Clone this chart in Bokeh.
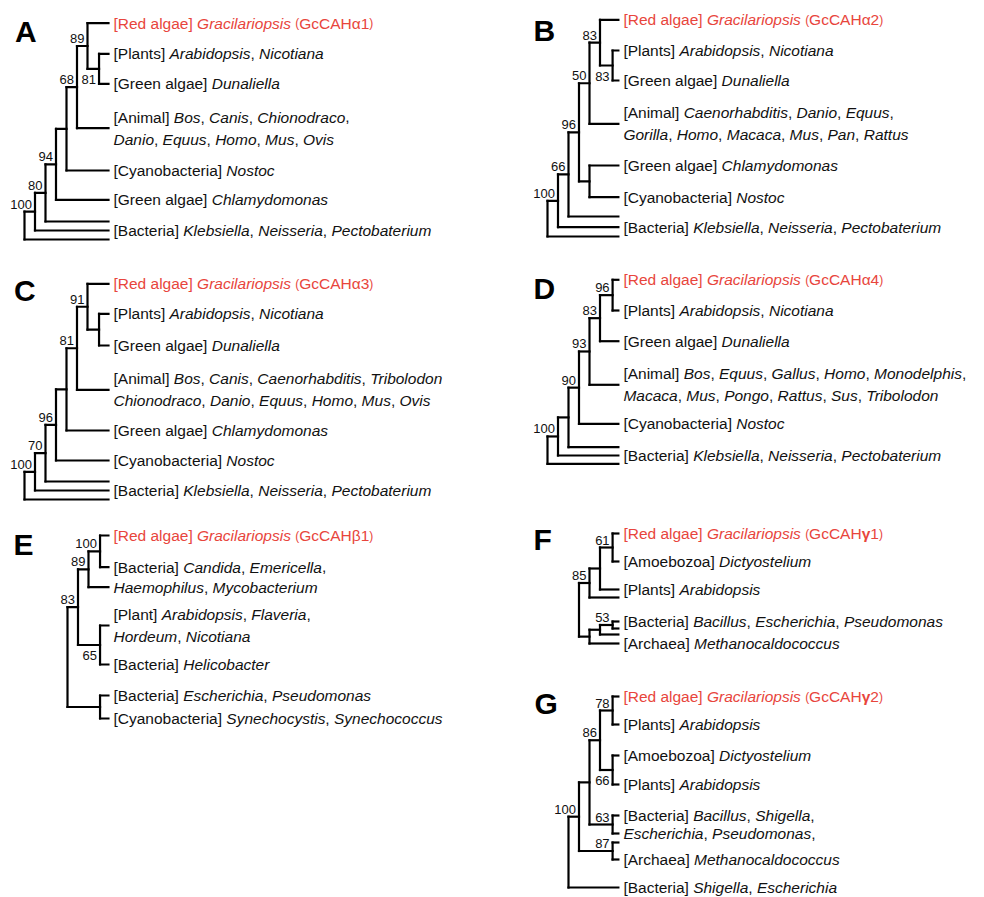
from bokeh.plotting import figure
from bokeh.models import Range1d
from bokeh.embed import file_html
from bokeh.resources import INLINE
from bokeh.core.properties import value

# ---------------- data: leaf labels (*...* = italic) and tree topology ----------------
# internal node = (bootstrap, depth, [children], placement) ; leaf = index into leaf list
A_leaves = [
    "[Red algae] *Gracilariopsis* (GcCAHα1)",
    "[Plants] *Arabidopsis*, *Nicotiana*",
    "[Green algae] *Dunaliella*",
    "[Animal] *Bos*, *Canis*, *Chionodraco*,\n*Danio*, *Equus*, *Homo*, *Mus*, *Ovis*",
    "[Cyanobacteria] *Nostoc*",
    "[Green algae] *Chlamydomonas*",
    "",
    "[Bacteria] *Klebsiella*, *Neisseria*, *Pectobaterium*",
    "",
]
A_tree = ("", 0, [("100", 1, [("80", 2, [("94", 3, [("", 4, [("68", 5, [("89", 6, [0, ("81", 7.1, [1, 2], "below")]), 3]), 4]), 5]), 6]), 7]), 8])

B_leaves = [
    "[Red algae] *Gracilariopsis* (GcCAHα2)",
    "[Plants] *Arabidopsis*, *Nicotiana*",
    "[Green algae] *Dunaliella*",
    "[Animal] *Caenorhabditis*, *Danio*, *Equus*,\n*Gorilla*, *Homo*, *Macaca*, *Mus*, *Pan*, *Rattus*",
    "[Green algae] *Chlamydomonas*",
    "[Cyanobacteria] *Nostoc*",
    "",
    "[Bacteria] *Klebsiella*, *Neisseria*, *Pectobaterium*",
    "",
]
B_tree = ("", 0, [("100", 1, [("66", 2, [("96", 3, [("50", 4, [("83", 5, [0, ("83", 6.2, [1, 2], "below")]), 3]), ("", 4, [4, 5])]), 6]), 7]), 8])

C_leaves = [
    "[Red algae] *Gracilariopsis* (GcCAHα3)",
    "[Plants] *Arabidopsis*, *Nicotiana*",
    "[Green algae] *Dunaliella*",
    "[Animal] *Bos*, *Canis*, *Caenorhabditis*, *Tribolodon*\n*Chionodraco*, *Danio*, *Equus*, *Homo*, *Mus*, *Ovis*",
    "[Green algae] *Chlamydomonas*",
    "[Cyanobacteria] *Nostoc*",
    "",
    "[Bacteria] *Klebsiella*, *Neisseria*, *Pectobaterium*",
    "",
]
C_tree = ("", 0, [("100", 1, [("70", 2, [("96", 3, [("", 4, [("81", 5, [("91", 6, [0, ("", 7.1, [1, 2])]), 3]), 4]), 5]), 6]), 7]), 8])

D_leaves = [
    "[Red algae] *Gracilariopsis* (GcCAHα4)",
    "[Plants] *Arabidopsis*, *Nicotiana*",
    "[Green algae] *Dunaliella*",
    "[Animal] *Bos*, *Equus*, *Gallus*, *Homo*, *Monodelphis*,\n*Macaca*, *Mus*, *Pongo*, *Rattus*, *Sus*, *Tribolodon*",
    "[Cyanobacteria] *Nostoc*",
    "",
    "[Bacteria] *Klebsiella*, *Neisseria*, *Pectobaterium*",
    "",
]
D_tree = ("", 0, [("100", 1, [("", 2, [("90", 3, [("93", 4, [("83", 5, [("96", 6.2, [0, 1]), 2]), 3]), 4]), 5]), 6]), 7])

E_leaves = [
    "[Red algae] *Gracilariopsis* (GcCAHβ1)",
    "[Bacteria] *Candida*, *Emericella*,",
    "*Haemophilus*, *Mycobacterium*",
    "[Plant] *Arabidopsis*, *Flaveria*,\n*Hordeum*, *Nicotiana*",
    "[Bacteria] *Helicobacter*",
    "[Bacteria] *Escherichia*, *Pseudomonas*",
    "[Cyanobacteria] *Synechocystis*, *Synechococcus*",
]
E_tree = ("", 0, [("83", 1, [("89", 2, [("100", 3.1, [0, 1]), 2]), ("65", 3.1, [3, 4], "below")]), ("", 3.1, [5, 6])])

F_leaves = [
    "[Red algae] *Gracilariopsis* (GcCAHγ1)",
    "[Amoebozoa] *Dictyostelium*",
    "[Plants] *Arabidopsis*",
    "",
    "[Bacteria] *Bacillus*, *Escherichia*, *Pseudomonas*",
    "",
    "",
    "[Archaea] *Methanocaldococcus*",
]
F_tree = ("", 3, [("85", 4, [("", 5, [("61", 6.2, [0, 1]), 2]), 3]),
                  ("", 4, [("", 5, [("53", 6.2, [4, 5]), 6]), 7])])

G_leaves = [
    "[Red algae] *Gracilariopsis* (GcCAHγ2)",
    "[Plants] *Arabidopsis*",
    "[Amoebozoa] *Dictyostelium*",
    "[Plants] *Arabidopsis*",
    "[Bacteria] *Bacillus*, *Shigella*,",
    "*Escherichia*, *Pseudomonas*,",
    "",
    "[Archaea] *Methanocaldococcus*",
    "[Bacteria] *Shigella*, *Escherichia*",
]
G_tree = ("", 2, [("100", 3, [("", 4, [("86", 5, [("78", 6.2, [0, 1]), ("66", 6.2, [2, 3], "below")]), ("63", 6.2, [4, 5])]), ("87", 6.2, [6, 7])]), 8])

# ---------------- layout / style ----------------
PANELS = [
    dict(name="A", leaves=A_leaves, tree=A_tree, x0=24, unit=10.5, tip=8.0, letter=(14.5, 31),
         ys=[22.7, 53.3, 83.3, 127.7, 170, 199.3, 221, 230, 239]),
    dict(name="B", leaves=B_leaves, tree=B_tree, x0=547, unit=10.5, tip=6.75, letter=(533, 30),
         ys=[19.3, 50, 80, 123.3, 165, 196.7, 216, 226.7, 236]),
    dict(name="C", leaves=C_leaves, tree=C_tree, x0=24, unit=10.5, tip=8.0, letter=(13.5, 290),
         ys=[283.3, 313.3, 345, 389.3, 430, 460, 481, 490, 499]),
    dict(name="D", leaves=D_leaves, tree=D_tree, x0=547, unit=10.5, tip=6.75, letter=(533, 287.5),
         ys=[279.3, 310, 340.7, 384.3, 423.3, 446.7, 455, 463.3]),
    dict(name="E", leaves=E_leaves, tree=E_tree, x0=67, unit=10.5, tip=3.9, letter=(13, 544),
         ys=[535, 566.7, 586.7, 625, 664, 695, 718]),
    dict(name="F", leaves=F_leaves, tree=F_tree, x0=547, unit=10.5, tip=6.75, letter=(533, 539),
         ys=[533, 561, 589, 597, 621, 628, 634, 643]),
    dict(name="G", leaves=G_leaves, tree=G_tree, x0=547, unit=10.5, tip=6.75, letter=(534, 702.5),
         ys=[696, 724, 755, 784, 815, 833, 842, 859, 887]),
]

FONT = "Liberation Sans"
LEAF_SIZE = 15.5
PAREN_SIZE = 12.0
BS_SIZE = 13
LETTER_SIZE = 30
LINE_GAP = 22.0
RED = "#E8453C"
INK = "#111111"
TEXT_GAP = 5.0
BS_ABOVE = -7.5   # visual centre of a bootstrap value relative to its branch
BS_BELOW = 10.5

# Helvetica/Arial advance widths (per 1000 em)
HW = {' ': 278, ',': 278, '.': 278, '[': 278, ']': 278, '(': 333, ')': 333, '-': 333,
      '0': 556, '1': 556, '2': 556, '3': 556, '4': 556, '5': 556, '6': 556, '7': 556, '8': 556, '9': 556,
      'A': 667, 'B': 667, 'C': 722, 'D': 722, 'E': 667, 'F': 611, 'G': 778, 'H': 722, 'I': 278,
      'J': 500, 'K': 667, 'L': 556, 'M': 833, 'N': 722, 'O': 778, 'P': 667, 'Q': 778, 'R': 722,
      'S': 667, 'T': 611, 'U': 722, 'V': 667, 'W': 944, 'X': 667, 'Y': 667, 'Z': 611,
      'a': 556, 'b': 556, 'c': 500, 'd': 556, 'e': 556, 'f': 278, 'g': 556, 'h': 556, 'i': 222,
      'j': 222, 'k': 500, 'l': 222, 'm': 833, 'n': 556, 'o': 556, 'p': 556, 'q': 556, 'r': 333,
      's': 500, 't': 278, 'u': 556, 'v': 500, 'w': 722, 'x': 500, 'y': 500, 'z': 500,
      'α': 578, 'β': 574, 'γ': 560}


def tw(s, size):
    return sum(HW.get(c, 556) for c in s) * size / 1000.0


groups = {}


def add_text(key, x, y, t):
    g = groups.setdefault(key, dict(x=[], y=[], text=[]))
    g["x"].append(x)
    g["y"].append(y)
    g["text"].append(t)


def tokens(line):
    out = []
    for i, part in enumerate(line.split("*")):
        if not part:
            continue
        if i % 2:
            out.append((part, "italic", LEAF_SIZE))
            continue
        buf = ""
        for ch in part:
            if ch in "()":
                if buf:
                    out.append((buf, "normal", LEAF_SIZE))
                    buf = ""
                out.append((ch, "normal", PAREN_SIZE))
            elif ch == "γ":
                if buf:
                    out.append((buf, "normal", LEAF_SIZE))
                    buf = ""
                out.append((ch, "bold", LEAF_SIZE))
            else:
                buf += ch
        if buf:
            out.append((buf, "normal", LEAF_SIZE))
    return out


segs = dict(x0=[], y0=[], x1=[], y1=[])
bs_lab = dict(x=[], y=[], text=[])


def lay(node, P):
    if isinstance(node, int):
        return P["x0"] + P["unit"] * P["tip"], P["ys"][node]
    lab, depth, kids = node[0], node[1], node[2]
    below = len(node) > 3 and node[3] == "below"
    x = P["x0"] + P["unit"] * depth
    pts = [lay(k, P) for k in kids]
    ys = [q[1] for q in pts]
    y = (min(ys) + max(ys)) / 2.0
    for a, b, c, d in [(x, min(ys), x, max(ys))] + [(x, cy, cx, cy) for cx, cy in pts]:
        segs["x0"].append(a); segs["y0"].append(b); segs["x1"].append(c); segs["y1"].append(d)
    if lab:
        bs_lab["x"].append(x - 3)
        bs_lab["y"].append(y + (BS_BELOW if below else BS_ABOVE))
        bs_lab["text"].append(lab)
    return x, y


letters = dict(x=[], y=[], text=[])
for P in PANELS:
    lay(P["tree"], P)
    tipx = P["x0"] + P["unit"] * P["tip"]
    letters["x"].append(P["letter"][0]); letters["y"].append(P["letter"][1]); letters["text"].append(P["name"])
    for idx, lbl in enumerate(P["leaves"]):
        if not lbl:
            continue
        color = RED if lbl.startswith("[Red") else INK
        lines = lbl.split("\n")
        n = len(lines)
        for k, line in enumerate(lines):
            yc = P["ys"][idx] + (k - (n - 1) / 2.0) * LINE_GAP
            x = tipx + TEXT_GAP
            for t, style, size in tokens(line):
                add_text((color, style, size), x, yc, t)
                x += tw(t, size)

# canvas fills the window: data coordinates are page pixels
p = figure(width=984, height=897, x_range=Range1d(0, 984), y_range=Range1d(897, 0),
           output_backend="svg", toolbar_location=None, min_border=0, title=None,
           x_axis_location=None, y_axis_location=None)
p.grid.visible = False
p.outline_line_color = None
p.background_fill_color = "white"
p.border_fill_color = "white"

p.segment(x0="x0", y0="y0", x1="x1", y1="y1", source=segs, line_width=2.2,
          line_color="black", line_cap="square")

for (color, style, size), g in groups.items():
    p.text(x="x", y="y", text="text", source=g, text_font=value(FONT), text_font_size=f"{size}px",
           text_font_style=style, text_color=color, text_align="left", text_baseline="alphabetic")

p.text(x="x", y="y", text="text", source=bs_lab, text_font=value(FONT), text_font_size=f"{BS_SIZE}px",
       text_color=INK, text_align="right", text_baseline="alphabetic")
p.text(x="x", y="y", text="text", source=letters, text_font=value(FONT), text_font_size=f"{LETTER_SIZE}px",
       text_font_style="bold", text_color="black", text_align="left", text_baseline="alphabetic")

open("out.html", "w").write(file_html(p, INLINE))
